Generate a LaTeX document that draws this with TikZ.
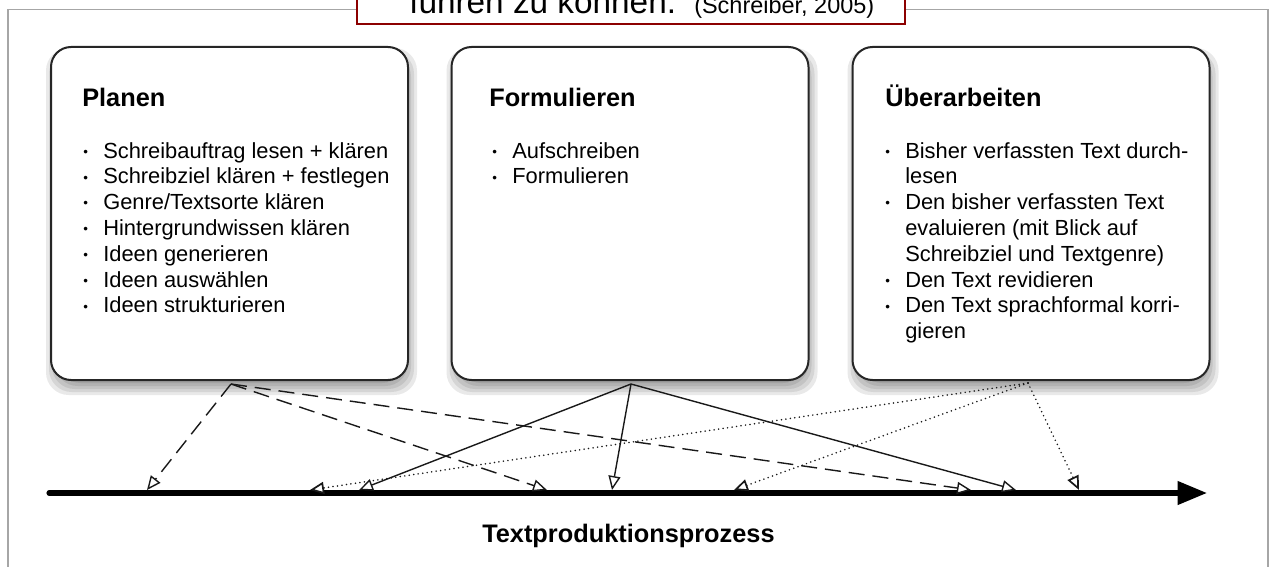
\documentclass[tikz,border=0pt]{standalone}
\usepackage{fontspec}
\setmainfont{Liberation Sans}
\usetikzlibrary{arrows.meta}
\pgfdeclarelayer{bg}
\pgfsetlayers{bg,main}

\newcommand{\bl}{\leavevmode\llap{\makebox[15pt][l]{\fontsize{10}{10}\selectfont\raisebox{1.3pt}{•}}}}
\newcommand{\itemlist}[1]{\vtop{\fontsize{16.4}{19.35}\selectfont\hsize=320pt\parindent=0pt\parskip=0pt\leftskip=0pt\baselineskip=19.35pt\lineskiplimit=-20pt #1}}

\tikzset{
  frame/.style={draw=black!35, line width=0.9pt},
  redbox/.style={draw=red!55!black, line width=1.1pt, fill=white, minimum width=411pt, minimum height=48pt, inner sep=0pt},
  phase/.style={draw=black!85, line width=1.5pt, fill=white, rounded corners=15pt, minimum width=267.75pt, minimum height=249.75pt, inner sep=0pt},
  ttl/.style={anchor=base west, inner sep=0pt, font=\fontsize{19}{23}\selectfont\bfseries},
  lst/.style={anchor=base west, inner sep=0pt},
  conn/.style={line width=1.05pt, draw=black!90, -{Triangle[length=10.5pt,width=9pt,fill=white]}},
  dsh/.style={conn, dash pattern=on 12pt off 6pt},
  dtt/.style={conn, line width=1.3pt, line cap=round, dash pattern=on 0pt off 3.4pt},
  axisline/.style={line width=3.8pt, line cap=round, -{Triangle[length=22pt,width=17pt]}},
  shad/.style={fill=black, opacity=0.085, rounded corners=17pt},
}

\begin{document}
\begin{tikzpicture}[x=0.75pt,y=-0.75pt]
\path[use as bounding box] (0,0) rectangle (1270,567);
\clip (0,0) rectangle (1270,567);

% outer frame
\draw[frame] (8,9.5) rectangle (1268,640);

% quote box at the top
\node[redbox] (rb) at (631,-8) {};
\node[anchor=base west, inner sep=0pt, font=\fontsize{25}{30}\selectfont] (q1) at (409,14) {führen zu können.};
\node[anchor=base west, inner sep=0pt, font=\fontsize{17.6}{21}\selectfont] (q2) at (694,14) {(Schreiber, 2005)};

% phase boxes
\node[phase] (p) at (229.5,213.5) {};
\node[phase] (f) at (630,213.5) {};
\node[phase] (u) at (1031,213.5) {};

\begin{pgfonlayer}{bg}
\foreach \n in {p,f,u}{
  \foreach \e in {-6,-3,0,3,6}{
    \fill[shad] ([shift={({2-(\e)},{8-(\e)})}]\n.north west) rectangle ([shift={({2+(\e)},{8+(\e)})}]\n.south east);
  }
}
\end{pgfonlayer}

% titles
\node[ttl] (pt) at (82,107) {Planen};
\node[ttl] (ft) at (489,107) {Formulieren};
\node[ttl] (ut) at (885,107) {Überarbeiten};

% lists
\node[lst] (pl) at (103,158) {\itemlist{%
\bl Schreibauftrag lesen + klären\par
\bl Schreibziel klären + festlegen\par
\bl Genre/Textsorte klären\par
\bl Hintergrundwissen klären\par
\bl Ideen generieren\par
\bl Ideen auswählen\par
\bl Ideen strukturieren\par}};

\node[lst] (fl) at (512,158) {\itemlist{%
\bl Aufschreiben\par
\bl Formulieren\par}};

\node[lst] (ul) at (905,158) {\itemlist{%
\bl Bisher verfassten Text durch-\par
lesen\par
\bl Den bisher verfassten Text\par
evaluieren (mit Blick auf\par
Schreibziel und Textgenre)\par
\bl Den Text revidieren\par
\bl Den Text sprachformal korri-\par
gieren\par}};

% axis
\coordinate (a0) at (49,493);
\coordinate (a1) at (1207,493);
\draw[axisline] (a0) -- (a1);
\node[ttl] (lab) at (482,542) {Textproduktionsprozess};

% sources
\coordinate (ps) at ([shift={(1.5,3)}]p.south);
\coordinate (fs) at ([shift={(1,3)}]f.south);
\coordinate (us) at ([shift={(-3,2)}]u.south);

% targets
\coordinate (d1) at (147,490);
\coordinate (d2) at (547,490);
\coordinate (d3) at (971,490);
\coordinate (s1) at (359,490);
\coordinate (s2) at (612,490);
\coordinate (s3) at (1016,490);
\coordinate (o1) at (310,490);
\coordinate (o2) at (734,490);
\coordinate (o3) at (1079,490);

\draw[dsh] (ps) -- (d1);
\draw[dsh] (ps) -- (d2);
\draw[dsh] (ps) -- (d3);
\draw[conn] (fs) -- (s1);
\draw[conn] (fs) -- (s2);
\draw[conn] (fs) -- (s3);
\draw[dtt] (us) -- (o1);
\draw[dtt] (us) -- (o2);
\draw[dtt] (us) -- (o3);
\end{tikzpicture}
\end{document}
